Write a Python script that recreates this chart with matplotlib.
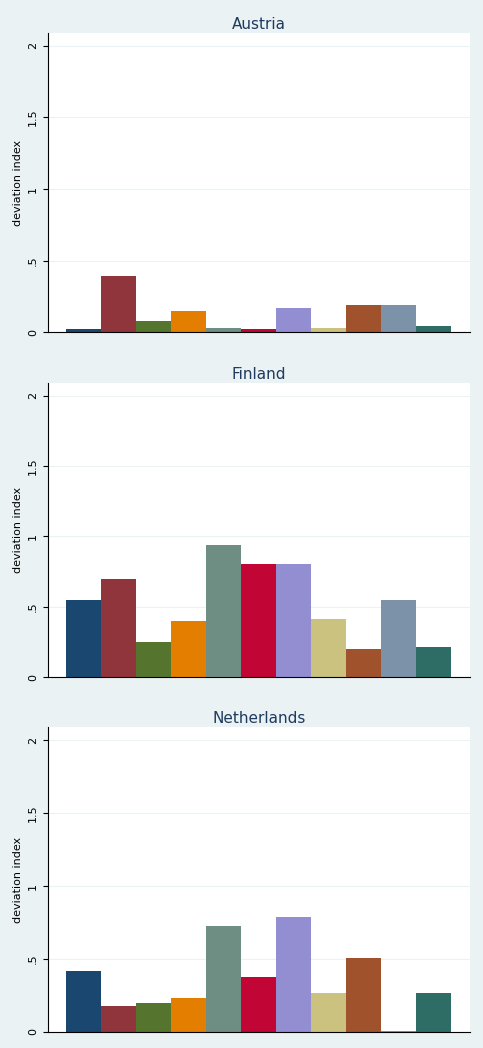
import matplotlib.pyplot as plt

countries = ["Austria", "Finland", "Netherlands"]
austria = [0.02, 0.39, 0.08, 0.15, 0.03, 0.02, 0.17, 0.03, 0.19, 0.19, 0.04]
finland = [0.55, 0.70, 0.25, 0.40, 0.94, 0.80, 0.80, 0.41, 0.20, 0.55, 0.21]
netherlands = [0.42, 0.18, 0.20, 0.23, 0.73, 0.38, 0.79, 0.27, 0.51, 0.01, 0.27]
series = [austria, finland, netherlands]
ticks = [0, 0.5, 1, 1.5, 2]
tick_labels = ["0", ".5", "1", "1.5", "2"]

colors = ["#1A476F", "#90353B", "#55752F", "#E37E00", "#6E8E84", "#C10534",
          "#938DD2", "#CAC27E", "#A0522D", "#7B92A8", "#2D6D66"]

fig = plt.figure(figsize=(4.83, 10.48), dpi=100)
fig.patch.set_facecolor("#EAF2F3")

boxes = [(0.9685, 0.683), (0.6345, 0.354), (0.306, 0.0153)]
for name, vals, (top, bot) in zip(countries, series, boxes):
    ax = fig.add_axes([0.099, bot, 0.874, top - bot])
    ax.set_facecolor("white")
    ax.bar(range(len(vals)), vals, width=1.0, color=colors)
    ax.set_xlim(-1.01, 11.04)
    ax.set_ylim(0, 2.09)
    ax.set_yticks(ticks)
    ax.set_yticklabels(tick_labels, rotation=90, va="center", fontsize=8)
    ax.set_xticks([])
    ax.yaxis.grid(True, color="#EAF2F3", linewidth=0.8)
    ax.set_axisbelow(True)
    for s in ["top", "right"]:
        ax.spines[s].set_visible(False)
    ax.spines["left"].set_color("black")
    ax.spines["bottom"].set_color("black")
    ax.set_ylabel("deviation index", fontsize=8)
    ax.set_title(name, fontsize=11, color="#1E3A5F", pad=3)

fig.savefig("out.png", dpi=100, facecolor=fig.get_facecolor())
